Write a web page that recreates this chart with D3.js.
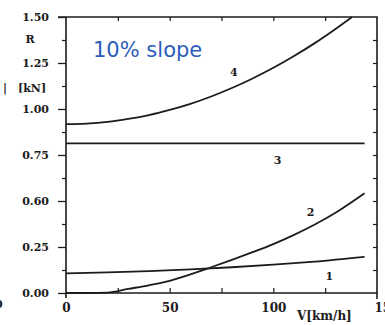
<!DOCTYPE html>
<html>
<head>
<meta charset="utf-8">
<script src="https://cdn.jsdelivr.net/npm/d3@7"></script>
<style>
  html, body { margin: 0; padding: 0; background: #fff; }
  svg { display: block; }
  .lbl { font-family: "DejaVu Serif", serif; font-weight: bold; fill: #1c1c1c; }
</style>
</head>
<body>
<svg id="chart" width="385" height="325"></svg>
<script>
// Speed axis (km/h)
const speedTicks = [0, 50, 100, 150];
const speedTickLabels = ["0", "50", "100", "150"];
const speedMinor = [25, 50, 75, 100, 125];

// Resistance axis (kN)
const forceTicks = [0, 0.25, 0.5, 0.75, 1.0, 1.25, 1.5];
const forceTickLabels = ["0.00", "0.25", "0.60", "0.75", "1.00", "1.25", "1.50"];
const forceMinor = [0.125, 0.375, 0.625, 0.875, 1.125, 1.375];

// Resistance curves, V in km/h, R in kN
const v1 = [0, 20, 40, 60, 80, 100, 120, 144];
const r1 = [0.107, 0.112, 0.119, 0.128, 0.140, 0.154, 0.171, 0.197];

const v2 = [0, 10, 20, 30, 40, 50, 60, 70, 80, 90, 100, 110, 120, 130, 144];
const r2 = [0, 0, 0.002, 0.022, 0.042, 0.066, 0.101, 0.140, 0.180, 0.222, 0.266, 0.316, 0.372, 0.436, 0.542];

const v3 = [0, 144];
const r3 = [0.813, 0.813];

const v4 = [0, 10, 20, 30, 40, 50, 60, 70, 80, 90, 100, 110, 120, 130, 138];
const r4 = [0.918, 0.921, 0.930, 0.946, 0.967, 0.995, 1.028, 1.068, 1.114, 1.166, 1.224, 1.288, 1.358, 1.435, 1.500];

const curveNames = ["1", "2", "3", "4"];
const curveLabelAt = [[127, 0.09], [118, 0.44], [102, 0.72], [81, 1.20]];

const svg = d3.select("#chart");
const x = d3.scaleLinear().domain([0, 150]).range([66, 377]);
const y = d3.scaleLinear().domain([0, 1.5]).range([293, 17]);
const ink = "#1c1c1c";

// Left axis: major ticks with labels, minor ticks outward
const leftAxis = svg.append("g").attr("transform", `translate(${x(0)},0)`)
  .call(d3.axisLeft(y).tickValues(forceTicks).tickSize(8).tickPadding(9)
    .tickFormat((d, i) => forceTickLabels[i]));
leftAxis.select(".domain").remove();
leftAxis.selectAll("line").attr("stroke", ink).attr("stroke-width", 1.3);
leftAxis.selectAll("text").attr("class", "lbl").attr("font-size", 11);

const leftMinor = svg.append("g").attr("transform", `translate(${x(0)},0)`)
  .call(d3.axisLeft(y).tickValues(forceMinor).tickSize(4).tickFormat(""));
leftMinor.select(".domain").remove();
leftMinor.selectAll("line").attr("stroke", ink).attr("stroke-width", 1.2);

// Right axis: small inward ticks
const rightAxis = svg.append("g").attr("transform", `translate(${x(150)},0)`)
  .call(d3.axisRight(y).tickValues(forceMinor.concat([0.25, 0.5, 0.75, 1.0, 1.25])).tickSize(-4).tickFormat(""));
rightAxis.select(".domain").remove();
rightAxis.selectAll("line").attr("stroke", ink).attr("stroke-width", 1.2);

// Bottom axis: inward ticks, labels below
const bottomTicks = svg.append("g").attr("transform", `translate(0,${y(0)})`)
  .call(d3.axisBottom(x).tickValues(speedMinor).tickSize(-5).tickFormat(""));
bottomTicks.select(".domain").remove();
bottomTicks.selectAll("line").attr("stroke", ink).attr("stroke-width", 1.2);

const bottomAxis = svg.append("g").attr("transform", `translate(0,${y(0)})`)
  .call(d3.axisBottom(x).tickValues(speedTicks).tickSize(0).tickPadding(10)
    .tickFormat((d, i) => speedTickLabels[i]));
bottomAxis.select(".domain").remove();
bottomAxis.selectAll("text").attr("class", "lbl").attr("font-size", 12);
bottomAxis.selectAll("text").filter(d => d === 150).attr("text-anchor", "start").attr("x", -3);

// Top axis: inward ticks
const topAxis = svg.append("g").attr("transform", `translate(0,${y(1.5)})`)
  .call(d3.axisTop(x).tickValues([25, 50, 75, 100, 125]).tickSize(-4).tickFormat(""));
topAxis.select(".domain").remove();
topAxis.selectAll("line").attr("stroke", ink).attr("stroke-width", 1.2);

// Frame
svg.append("path")
  .attr("d", `M${x(0) - 8},${y(1.5)}H${x(150)}V${y(0) + 6}M${x(150)},${y(0)}H${x(0)}M${x(0)},${y(1.5)}V${y(0) + 5}`)
  .attr("fill", "none").attr("stroke", ink).attr("stroke-width", 1.6);

// Curves
const line = d3.line().x(d => x(d[0])).y(d => y(d[1])).curve(d3.curveMonotoneX);
const series = [[v1, r1], [v2, r2], [v3, r3], [v4, r4]];
series.forEach(([vs, rs]) => {
  svg.append("path")
    .datum(vs.map((v, i) => [v, rs[i]]))
    .attr("d", line)
    .attr("fill", "none").attr("stroke", ink).attr("stroke-width", 1.8);
});

// Curve numbers
curveNames.forEach((n, i) => {
  svg.append("text").attr("class", "lbl").attr("font-size", 11)
    .attr("x", x(curveLabelAt[i][0])).attr("y", y(curveLabelAt[i][1]))
    .attr("text-anchor", "middle").attr("dy", "0.35em").text(n);
});

// Axis titles
svg.append("text").attr("class", "lbl").attr("font-size", 11)
  .attr("x", 30).attr("y", 43).attr("text-anchor", "middle").text("R");
svg.append("text").attr("class", "lbl").attr("font-size", 11)
  .attr("x", 3).attr("y", 92).text("|");
svg.append("text").attr("class", "lbl").attr("font-size", 11)
  .attr("x", 18).attr("y", 92).text("[kN]");
svg.append("text").attr("class", "lbl").attr("font-size", 12)
  .attr("x", 297).attr("y", 320).text("V[km/h]");
svg.append("text").attr("class", "lbl").attr("font-size", 11)
  .attr("x", -5).attr("y", 308).text("0");

// Gradient annotation
svg.append("text")
  .attr("x", 93).attr("y", 57)
  .attr("font-family", "DejaVu Sans, sans-serif").attr("font-size", 21)
  .attr("fill", "#2d5cba").text("10% slope");
</script>
</body>
</html>
